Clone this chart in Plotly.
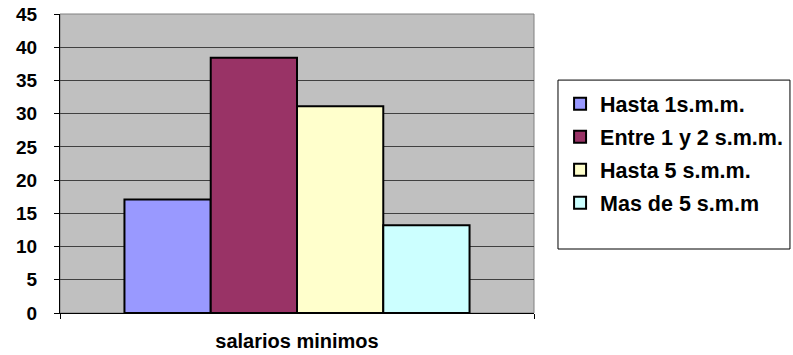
import plotly.graph_objects as go

category = ["salarios minimos"]
series_names = ["Hasta 1s.m.m.", "Entre 1 y 2 s.m.m.", "Hasta 5 s.m.m.", "Mas de 5 s.m.m"]
series_values = [17.1, 38.4, 31.1, 13.2]
series_colors = ["#9999FF", "#993366", "#FFFFCC", "#CCFFFF"]
y_ticks = [0, 5, 10, 15, 20, 25, 30, 35, 40, 45]

fig = go.Figure()
for name, val, col in zip(series_names, series_values, series_colors):
    fig.add_trace(go.Bar(
        x=category, y=[val], name=f"<b>{name}</b>", legendgroup=name,
        marker=dict(color=col, line=dict(color="#000000", width=2)),
    ))

fig.update_layout(
    width=793, height=355,
    barmode="group", bargap=0.272, bargroupgap=0,
    plot_bgcolor="#C0C0C0", paper_bgcolor="#FFFFFF",
    font=dict(family="Liberation Sans, Arial", size=15, color="#000000"),
    margin=dict(l=60, r=259, t=14, b=42, pad=0, autoexpand=False),
    xaxis=dict(
        type="category", range=[-0.5, 0.5], automargin=False,
        showline=True, linecolor="#000000", linewidth=1,
        ticks="outside", tickson="boundaries", ticklen=5, tickcolor="#000000",
        tickfont=dict(size=20), ticklabelstandoff=10,
        tickvals=category, ticktext=[f"<b>{c}</b>" for c in category],
    ),
    yaxis=dict(
        range=[0, 45], tickvals=y_ticks, ticktext=[f"<b>{v}</b>" for v in y_ticks],
        automargin=False, showline=True, linecolor="#000000", linewidth=1,
        ticks="outside", ticklen=5, tickcolor="#000000",
        showgrid=True, gridcolor="#404040", gridwidth=1, zeroline=False,
        tickfont=dict(size=19), ticklabelstandoff=13, ticklabeloverflow="allow",
    ),
    legend=dict(
        x=1.055, xanchor="left", y=0.768, yanchor="top",
        borderwidth=0, bgcolor="rgba(0,0,0,0)",
        font=dict(size=21.5), traceorder="grouped", tracegroupgap=2,
        itemwidth=30,
    ),
    shapes=[
        dict(type="rect", xref="paper", yref="paper", x0=0, x1=1, y0=0, y1=1,
             line=dict(color="#808080", width=1), layer="below"),
        dict(type="rect", xref="paper", yref="paper", x0=1.0506, x1=1.54, y0=0.214, y1=0.779,
             line=dict(color="#000000", width=1), fillcolor="#FFFFFF", layer="below"),
    ],
)

# drop the browser's default body margin so the figure sits at the page corner
fig.write_html("out.html", config={"displayModeBar": False},
               post_script="document.body.style.margin='0';")
